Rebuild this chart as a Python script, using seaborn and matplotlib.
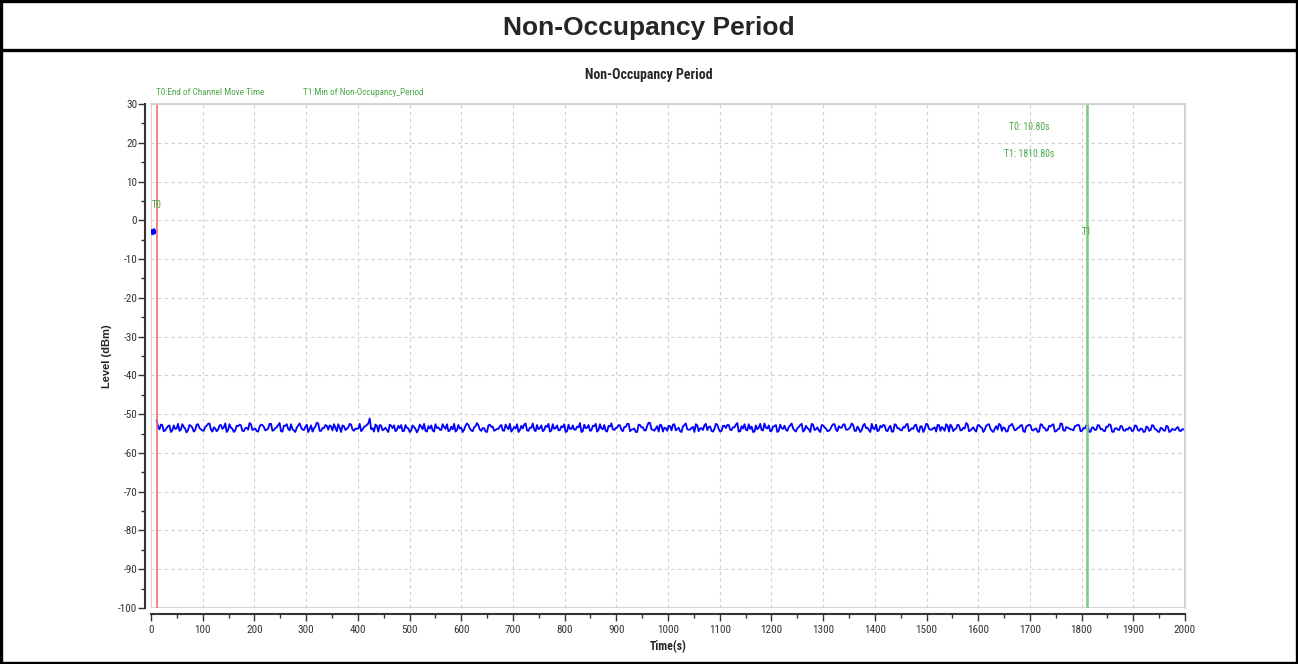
import numpy as np
import pandas as pd
import matplotlib
matplotlib.use("Agg")
import matplotlib.pyplot as plt
from matplotlib.patches import Rectangle
from matplotlib.lines import Line2D
from matplotlib.ticker import MultipleLocator
import seaborn as sns

# ---------------- data ----------------
header_title = "Non-Occupancy Period"
chart_title = "Non-Occupancy Period"
x_label = "Time(s)"
y_label = "Level (dBm)"
x_ticks = list(range(0, 2001, 100))
y_ticks = list(range(-100, 31, 10))

t0_time = 10.80
t1_time = 1810.80
t0_caption = "T0:End of Channel Move Time"
t1_caption = "T1:Min of Non-Occupancy_Period"
t0_readout = "T0: 10.80s"
t1_readout = "T1: 1810.80s"

# short burst before channel move ends
burst_time = [1.0, 2.0, 3.0, 4.0, 5.0, 6.0, 7.0, 8.0]
burst_level = [-3.2, -2.6, -3.5, -2.8, -3.0, -2.4, -3.3, -2.9]

# noise floor level after the move
noise_level = [
    -51.6, -53.9, -52.8, -54.2, -53.1, -54.6, -52.9, -53.7, -54.3, -52.6, -53.8, -54.1, -53.0, -54.5, -52.7, -53.6, -54.2, -53.3, -52.5, -54.0,
    -53.4, -54.4, -52.9, -53.8, -52.4, -54.1, -53.5, -54.6, -53.0, -52.7, -54.3, -53.6, -54.0, -52.6, -53.9, -54.4, -53.2, -52.8, -54.2, -53.7,
    -52.5, -54.1, -53.4, -52.3, -54.5, -53.0, -53.8, -52.6, -54.2, -53.5, -52.4, -54.0, -53.3, -54.6, -52.9, -53.7, -52.2, -54.3, -53.6, -52.8,
    -54.0, -53.2, -52.6, -54.4, -53.5, -52.9, -54.1, -53.4, -52.7, -54.3, -53.8, -52.5, -54.0, -53.1, -52.4, -53.9, -54.5, -53.0, -52.8, -54.2,
    -53.5, -54.6, -53.0, -52.9, -54.1, -53.6, -54.4, -52.8, -53.7, -54.2, -53.3, -54.7, -52.7, -53.9, -54.3, -53.1, -52.9, -54.5, -53.6, -54.0,
    -52.6, -53.8, -54.4, -53.2, -52.5, -54.1, -53.7, -54.6, -53.0, -52.8, -54.2, -53.4, -52.3, -54.0, -53.6, -54.5, -52.9, -53.3, -54.3, -53.8,
    -53.1, -54.2, -52.7, -53.9, -54.5, -53.3, -52.6, -54.1, -53.7, -52.4, -54.3, -53.5, -54.0, -52.8, -53.6, -54.4, -53.0, -52.5, -54.2, -53.8,
    -52.9, -54.1, -53.4, -54.6, -52.7, -53.8, -54.0, -53.2, -52.3, -54.4, -53.6, -52.8, -54.2, -53.1, -54.5, -52.6, -53.9, -54.3, -53.0, -52.4,
    -54.1, -53.5, -52.9, -54.4, -53.3, -52.5, -54.0, -53.7, -54.6, -52.8, -53.4, -54.2, -52.2, -53.9, -54.3, -53.1, -52.7, -54.5, -53.6, -53.0,
    -54.2, -52.6, -53.8, -54.4, -53.2, -52.4, -54.0, -53.5, -54.6, -52.9, -53.7, -54.1, -52.5, -53.3, -54.3, -53.8, -52.7, -54.5, -53.0, -53.6,
    -52.8, -54.1, -53.4, -52.3, -54.4, -53.7, -54.0, -52.6, -53.2, -54.5, -53.9, -52.5, -54.2, -53.5, -52.9, -54.3, -53.1, -54.6, -52.7, -53.8,
    -54.0, -53.3, -52.4, -54.2, -53.6, -52.8, -54.5, -53.0, -53.9, -52.5, -54.1, -53.4, -54.6, -52.9, -53.7, -54.3, -53.1, -52.6, -54.4, -53.5,
    -52.7, -54.0, -53.8, -52.4, -54.3, -53.2, -54.6, -52.9, -53.6, -54.1, -52.5, -53.9, -54.4, -53.0, -52.8, -54.2, -53.5, -54.5, -52.6, -53.7,
    -54.1, -53.3, -52.7, -54.4, -53.6, -52.9, -54.2, -53.1, -54.6, -52.5, -53.8, -54.0, -53.4, -52.8, -54.3, -53.7, -52.6, -54.5, -53.2, -53.9,
    -52.7, -54.2, -53.5, -52.3, -54.4, -53.8, -54.1, -52.9, -53.3, -54.6, -53.0, -52.6, -54.3, -53.7, -54.0, -52.8, -53.4, -54.5, -53.1, -52.5,
    -54.2, -53.6, -52.9, -54.4, -53.2, -52.7, -54.1, -53.8, -54.6, -52.6, -53.5, -54.3, -53.0, -52.8, -54.5, -53.9, -52.4, -54.2, -53.3, -53.7,
    -54.0, -53.1, -52.7, -54.4, -53.6, -52.9, -54.6, -53.4, -54.1, -52.8, -53.9, -54.3, -53.2, -52.6, -54.5, -53.7, -54.0, -53.0, -54.2, -53.8,
    -53.4, -54.4, -52.9, -54.1, -53.7, -54.6, -53.2, -54.3, -52.8, -53.9, -54.5, -53.5, -54.2, -53.0, -54.6, -53.8, -54.1, -53.3, -54.4, -53.9,
]
noise_level_b = [
    -53.2, -52.7, -54.4, -53.6, -52.9, -54.2, -53.8, -52.5, -54.0, -53.3, -54.7, -52.8, -53.5, -54.1, -52.6, -53.9, -54.3, -53.0, -52.4, -54.5,
    -53.7, -54.0, -52.8, -53.4, -54.6, -52.6, -53.8, -54.2, -53.1, -52.9, -54.4, -53.5, -52.3, -54.1, -53.7, -54.5, -52.7, -53.3, -54.0, -52.5,
    -54.3, -53.6, -52.8, -54.4, -53.0, -52.6, -54.2, -53.9, -54.6, -52.9, -53.4, -54.1, -52.7, -53.8, -54.5, -53.2, -52.4, -54.3, -53.6, -53.0,
    -52.9, -54.2, -53.5, -52.6, -54.6, -53.1, -53.8, -52.5, -54.0, -53.7, -53.7, -54.4, -53.3, -52.8, -51.1, -53.6, -52.7, -54.5, -53.0, -53.9,
    -54.1, -52.7, -53.6, -54.4, -53.0, -52.8, -54.3, -53.5, -54.6, -52.9, -53.8, -54.0, -53.2, -52.5, -54.5, -53.7, -54.2, -52.6, -53.4, -54.1,
    -53.3, -52.6, -54.2, -53.9, -54.5, -52.8, -53.5, -54.0, -52.4, -53.7, -54.4, -53.1, -52.9, -54.3, -53.6, -54.6, -52.7, -53.2, -54.1, -53.8,
    -52.8, -54.3, -53.4, -52.5, -54.0, -53.7, -54.6, -53.0, -52.7, -54.2, -53.5, -52.4, -54.4, -53.9, -52.9, -54.1, -53.3, -54.5, -52.6, -53.6,
    -54.2, -53.1, -52.6, -54.4, -53.8, -52.9, -54.0, -53.4, -54.6, -52.7, -53.5, -54.3, -53.0, -52.5, -54.1, -53.7, -52.8, -54.5, -53.2, -53.9,
    -53.6, -52.8, -54.1, -53.3, -52.5, -54.4, -53.9, -54.6, -52.7, -53.4, -54.2, -53.0, -52.3, -54.0, -53.7, -54.5, -52.9, -53.5, -54.3, -53.1,
    -52.7, -54.2, -53.5, -54.6, -52.8, -53.9, -54.0, -53.3, -52.6, -54.4, -53.6, -52.9, -54.1, -53.2, -54.5, -52.5, -53.8, -54.3, -53.0, -52.8,
    -54.0, -53.4, -52.7, -54.5, -53.1, -52.6, -54.2, -53.8, -54.6, -52.9, -53.5, -54.1, -52.4, -53.7, -54.4, -53.2, -52.8, -54.3, -53.6, -53.0,
    -54.3, -52.9, -53.7, -54.5, -53.3, -52.5, -54.1, -53.6, -54.6, -52.7, -53.9, -54.2, -52.8, -53.4, -54.4, -53.9, -52.6, -54.0, -53.1, -53.5,
    -52.6, -54.0, -53.3, -52.8, -54.3, -53.8, -54.1, -52.5, -53.5, -54.6, -53.7, -52.7, -54.2, -53.4, -52.9, -54.4, -53.0, -54.5, -52.8, -53.6,
    -54.2, -53.5, -52.5, -54.1, -53.8, -52.7, -54.6, -53.2, -53.9, -52.6, -54.0, -53.6, -54.5, -52.8, -53.3, -54.3, -53.0, -52.7, -54.4, -53.7,
    -52.9, -54.1, -53.7, -52.6, -54.2, -53.4, -54.5, -52.8, -53.5, -54.0, -52.7, -53.8, -54.6, -53.1, -52.5, -54.3, -53.6, -54.4, -52.9, -53.3,
    -54.0, -53.4, -52.8, -54.6, -53.0, -52.9, -54.2, -53.7, -54.5, -52.7, -53.6, -54.1, -53.2, -52.6, -54.4, -53.8, -52.5, -54.3, -53.5, -53.9,
    -54.2, -53.0, -52.9, -54.3, -53.7, -52.8, -54.5, -53.5, -54.0, -52.9, -53.8, -54.4, -53.3, -52.8, -54.6, -53.6, -54.1, -53.2, -54.3, -54.0,
    -53.6, -54.2, -53.0, -54.3, -53.8, -54.5, -53.4, -54.1, -53.0, -54.0, -54.6, -53.7, -54.3, -53.2, -54.4, -54.0, -53.6, -54.2, -53.9, -54.1,
]

# interleave the two readings into a single time series
noise_series = [v for pair in zip(noise_level, noise_level_b) for v in pair]
noise_time = np.linspace(10.8, 2000, len(noise_series))

# ---------------- styling ----------------
sns.set_theme(style="white")
narrow = ["Roboto Condensed", "Liberation Sans Narrow", "Liberation Sans", "DejaVu Sans"]
plt.rcParams["font.family"] = narrow
plt.rcParams["axes.unicode_minus"] = False

W, H = 1298, 664
fig = plt.figure(figsize=(W / 100, H / 100), dpi=100)
fig.patch.set_facecolor("white")

# outer frame and header separator
fig.patches.append(Rectangle((0.001, 0.002), 0.998, 0.996, transform=fig.transFigure,
                             fill=False, edgecolor="black", linewidth=2.4))
fig.lines.append(Line2D([0, 1], [1 - 50 / H, 1 - 50 / H], transform=fig.transFigure,
                        color="black", linewidth=2.4))
fig.text(0.5, 1 - 28 / H, header_title, ha="center", va="center",
         fontsize=19, fontweight="bold", family=["Liberation Sans", "DejaVu Sans"])
# chart title centred on the figure
fig.text(0.5, 1 - 75 / H, chart_title, ha="center", va="center",
         fontsize=10, fontweight="bold")

left, right, top, bottom = 151, 1185, 104, 608
ax = fig.add_axes([left / W, 1 - bottom / H, (right - left) / W, (bottom - top) / H])

green = "#4aa84a"
blue = "#0000ff"

df_noise = pd.DataFrame({"Time": noise_time, "Level": noise_series})
df_burst = pd.DataFrame({"Time": burst_time, "Level": burst_level})
sns.lineplot(data=df_noise, x="Time", y="Level", ax=ax, color=blue, linewidth=1.3,
             errorbar=None, estimator=None)
sns.lineplot(data=df_burst, x="Time", y="Level", ax=ax, color=blue, linewidth=2,
             errorbar=None, estimator=None)

ax.axvline(t0_time, color="#f07070", linewidth=1.2)
ax.axvline(t1_time, color="#80c880", linewidth=1.8)

ax.set_xlim(0, 2000)
ax.set_ylim(-100, 30)
ax.set_xticks(x_ticks)
ax.set_yticks(y_ticks)
ax.xaxis.set_minor_locator(MultipleLocator(50))
ax.yaxis.set_minor_locator(MultipleLocator(5))
ax.grid(True, which="major", linestyle=(0, (3, 3)), color="#d0d0d0", linewidth=0.8)

ax.tick_params(axis="both", which="major", length=5, width=1, color="#333333",
               labelsize=8, labelcolor="#333333", direction="out", pad=3)
ax.tick_params(axis="y", which="major", pad=1)
ax.tick_params(axis="both", which="minor", length=3, width=1, color="#333333", direction="out")
ax.tick_params(axis="x", bottom=True, which="both")
ax.tick_params(axis="y", left=True, which="both")

for s in ["top", "right"]:
    ax.spines[s].set_visible(True)
    ax.spines[s].set_color("#d0d0d0")
    ax.spines[s].set_linewidth(1.2)
for s in ["left", "bottom"]:
    ax.spines[s].set_color("#333333")
    ax.spines[s].set_linewidth(1.5)
    ax.spines[s].set_position(("outward", 4))
# gray inner frame on left/bottom
ax.add_patch(Rectangle((0, 0), 1, 1, transform=ax.transAxes, fill=False,
                       edgecolor="#d0d0d0", linewidth=1.2, zorder=0.5))

ax.set_xlabel(x_label, fontsize=8.5, fontweight="bold", labelpad=4)
ax.set_ylabel(y_label, fontsize=8, fontweight="bold", labelpad=4,
              family=["Liberation Sans", "DejaVu Sans"])

# annotations
ax.text(0.005, 1.014, t0_caption, transform=ax.transAxes, color=green, fontsize=6.6,
        ha="left", va="bottom")
ax.text(0.147, 1.014, t1_caption, transform=ax.transAxes, color=green, fontsize=6.6,
        ha="left", va="bottom")
ax.text(1, 4, "T0", color=green, fontsize=7, ha="left", va="center")
ax.text(t1_time, -3, "T1", color=green, fontsize=7, ha="center", va="center")
ax.text(1698, 24, t0_readout, color=green, fontsize=7, ha="center", va="center")
ax.text(1698, 17, t1_readout, color=green, fontsize=7, ha="center", va="center")

fig.savefig("out.png", dpi=100, facecolor="white")
